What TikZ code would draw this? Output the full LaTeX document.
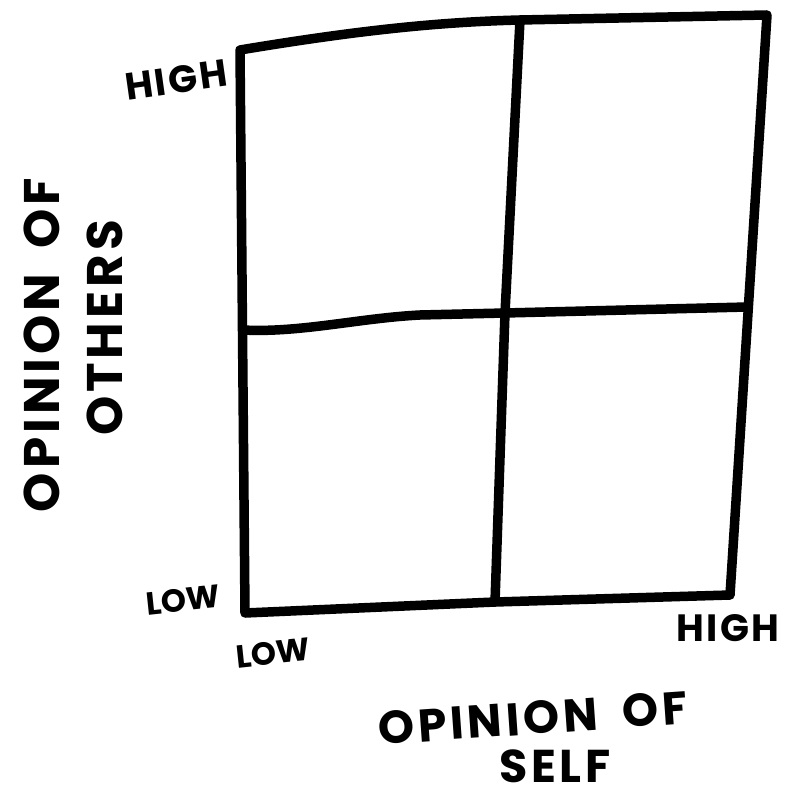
\documentclass[tikz,border=0pt]{standalone}
\usepackage{fontspec}
\setmainfont{Poppins}[BoldFont={* Bold}]
\begin{document}
\begin{tikzpicture}[x=1pt,y=-1pt,
  stroke/.style={line width=9.5pt,line cap=round,line join=round,black},
  bigtxt/.style={inner sep=0pt,font=\fontsize{46}{50}\selectfont\bfseries\addfontfeature{LetterSpace=8}},
  sidetxt/.style={inner sep=0pt,font=\fontsize{50}{56}\selectfont\bfseries\addfontfeature{LetterSpace=8}},
  smalltxt/.style={inner sep=0pt,font=\fontsize{38}{40}\selectfont\bfseries\addfontfeature{LetterSpace=6}},
  lowtxt/.style={inner sep=0pt,font=\fontsize{32}{36}\selectfont\bfseries}]
\useasboundingbox[fill=white] (0,0) rectangle (786,799);
% grid corners
\coordinate (tl) at (240,50);
\coordinate (tr) at (767,15);
\coordinate (br) at (730,595);
\coordinate (bl) at (245,613);
\coordinate (mt) at (520,20);
\coordinate (mb) at (495,602);
\coordinate (ml) at (243,330);
\coordinate (mr) at (747,307);
\coordinate (c) at (505,313);
% outer frame
\draw[stroke] (tl) .. controls (360,30) and (440,22) .. (mt) -- (tr) -- (br) -- (mb) -- (bl) -- cycle;
% vertical middle
\draw[stroke] (mt) -- (c) -- (mb);
% horizontal middle
\draw[stroke] (ml) .. controls (300,333) and (360,318) .. (420,315) -- (c) -- (mr);
% labels
\node[smalltxt,rotate=8] (yhigh) at (176,80) {HIGH};
\node[lowtxt,rotate=6] (ylow) at (183,600) {LOW};
\node[lowtxt,rotate=6] (xlow) at (273,653) {LOW};
\node[smalltxt] (xhigh) at (728,628) {HIGH};
\node[bigtxt,rotate=4] (xlab1) at (533,718) {OPINION\hspace{0.55em}OF};
\node[bigtxt] (xlab2) at (555,766) {SELF};
\node[sidetxt,rotate=90] (ylab1) at (42,345) {OPINION\hspace{0.5em}OF};
\node[sidetxt,rotate=90] (ylab2) at (105,328) {OTHERS};
\end{tikzpicture}
\end{document}
